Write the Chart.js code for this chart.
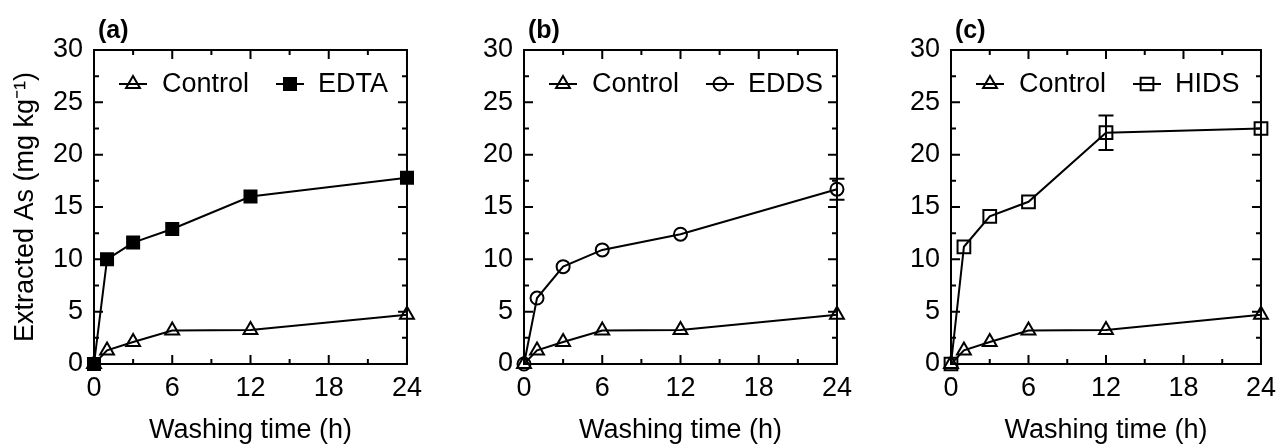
<!DOCTYPE html>
<html>
<head>
<meta charset="utf-8">
<script src="https://cdn.jsdelivr.net/npm/chart.js@4.4.0/dist/chart.umd.min.js"></script>
<style>
  body { margin: 0; background: #fff; }
  canvas { position: absolute; top: 0; }
</style>
</head>
<body>
<canvas id="chartA" width="430" height="444" style="left:0px"></canvas>
<canvas id="chartB" width="430" height="444" style="left:430px"></canvas>
<canvas id="chartC" width="424" height="444" style="left:860px"></canvas>
<script>
// washing time (h) and extracted As (mg/kg)
const hours = [0, 1, 3, 6, 12, 24]
const controlAs = [0, 1.3, 2.1, 3.2, 3.25, 4.7]
const edtaAs = [0, 10.0, 11.6, 12.9, 16.0, 17.8]
const eddsAs = [0, 6.3, 9.3, 10.9, 12.4, 16.7]
const hidsAs = [0, 11.2, 14.1, 15.5, 22.1, 22.5]
const edtaErr = [0, 0, 0, 0, 0, 0]
const eddsErr = [0, 0, 0, 0, 0, 1.0]
const hidsErr = [0, 0, 0, 0, 1.65, 0]
const xTicks = [0, 6, 12, 18, 24]
const yTicks = [0, 5, 10, 15, 20, 25, 30]
const xMinor = [3, 9, 15, 21]
const yMinor = [2.5, 7.5, 12.5, 17.5, 22.5, 27.5]

const FONT = '"Liberation Sans", Arial, Helvetica, sans-serif'
Chart.defaults.font.family = FONT
Chart.defaults.color = '#000'

function toPoints(vals) {
    return hours.map((h, i) => ({ x: h, y: vals[i] }))
}

function makePanel(id, cfg) {
    const deco = {
        id: 'deco' + id,
        afterDatasetsDraw(chart) {
            const { ctx, chartArea: a, scales: { x, y } } = chart
            ctx.save()
            ctx.strokeStyle = '#000'
            ctx.lineWidth = 2
            // error bars
            cfg.err.forEach((e, i) => {
                if (!e) return
                const px = x.getPixelForValue(hours[i])
                const top = y.getPixelForValue(cfg.values[i] + e)
                const bot = y.getPixelForValue(cfg.values[i] - e)
                ctx.beginPath()
                ctx.moveTo(px, top); ctx.lineTo(px, bot)
                ctx.moveTo(px - 7.5, top); ctx.lineTo(px + 7.5, top)
                ctx.moveTo(px - 7.5, bot); ctx.lineTo(px + 7.5, bot)
                ctx.stroke()
            })
            // frame with inward ticks on all sides
            ctx.strokeRect(a.left, a.top, a.right - a.left, a.bottom - a.top)
            ctx.beginPath()
            const xt = (v, len) => {
                const px = x.getPixelForValue(v)
                ctx.moveTo(px, a.bottom); ctx.lineTo(px, a.bottom - len)
                ctx.moveTo(px, a.top); ctx.lineTo(px, a.top + len)
            }
            const yt = (v, len) => {
                const py = y.getPixelForValue(v)
                ctx.moveTo(a.left, py); ctx.lineTo(a.left + len, py)
                ctx.moveTo(a.right, py); ctx.lineTo(a.right - len, py)
            }
            xTicks.forEach(v => xt(v, 9))
            xMinor.forEach(v => xt(v, 5))
            yTicks.forEach(v => yt(v, 9))
            yMinor.forEach(v => yt(v, 5))
            ctx.stroke()

            // legend inside the plot
            const ly = 84
            const symStart = [25, 182]
            const textStart = [68, 224]
            ctx.font = '27px ' + FONT
            ctx.textBaseline = 'middle'
            ctx.textAlign = 'left'
            chart.data.datasets.forEach((ds, i) => {
                const sx = a.left + symStart[i]
                ctx.beginPath()
                ctx.moveTo(sx, ly); ctx.lineTo(sx + 28, ly)
                ctx.stroke()
                ctx.fillStyle = ds.pointBackgroundColor
                Chart.helpers.drawPoint(ctx, { pointStyle: ds.pointStyle, radius: ds.pointRadius, borderWidth: 2, rotation: 0 }, sx + 14, ly)
                ctx.fillStyle = '#000'
                ctx.fillText(ds.label, a.left + textStart[i], ly + 1)
            })

            // panel label
            ctx.font = 'bold 25px ' + FONT
            ctx.textBaseline = 'alphabetic'
            ctx.fillStyle = '#000'
            ctx.fillText(cfg.tag, a.left + 4, 38)
            ctx.restore()
        }
    }

    const tickFont = { size: 27, family: FONT }
    return new Chart(document.getElementById(id).getContext('2d'), {
        type: 'line',
        data: {
            datasets: [
                {
                    label: 'Control',
                    data: toPoints(controlAs),
                    borderColor: '#000',
                    borderWidth: 2,
                    pointStyle: 'triangle',
                    pointRadius: 8,
                    pointBorderWidth: 2,
                    pointBorderColor: '#000',
                    pointBackgroundColor: 'rgba(0,0,0,0)',
                    clip: false,
                    order: 1,
                },
                {
                    label: cfg.name,
                    data: toPoints(cfg.values),
                    borderColor: '#000',
                    borderWidth: 2,
                    pointStyle: cfg.marker,
                    pointRadius: cfg.radius,
                    pointBorderWidth: 2,
                    pointBorderColor: '#000',
                    pointBackgroundColor: cfg.fill,
                    clip: false,
                    order: 0,
                },
            ],
        },
        options: {
            responsive: false,
            animation: false,
            devicePixelRatio: 1,
            layout: { padding: { top: 50, right: cfg.padRight, left: 0, bottom: 0 } },
            plugins: { legend: { display: false }, tooltip: { enabled: false } },
            scales: {
                x: {
                    type: 'linear',
                    min: 0,
                    max: 24,
                    grid: { display: false, drawTicks: false },
                    border: { display: false },
                    ticks: { stepSize: 6, padding: 8, font: tickFont, color: '#000', maxRotation: 0 },
                    title: { display: true, text: 'Washing time (h)', font: { size: 27, lineHeight: 1 }, color: '#000', padding: { top: 0, bottom: 0 } },
                    afterFit: (s) => { s.height = 80 },
                },
                y: {
                    min: 0,
                    max: 30,
                    grid: { display: false, drawTicks: false },
                    border: { display: false },
                    ticks: { stepSize: 5, padding: 11, font: tickFont, color: '#000' },
                    title: { display: cfg.yTitle, text: 'Extracted As (mg kg\u207B\u00B9)', font: { size: 27, lineHeight: 1 }, color: '#000', padding: { top: 12, bottom: 0 } },
                    afterFit: (s) => { s.width = cfg.axisW },
                },
            },
        },
        plugins: [deco],
    })
}

makePanel('chartA', { tag: '(a)', name: 'EDTA', values: edtaAs, err: edtaErr, marker: 'rect', radius: 8.5, fill: '#000', axisW: 94, padRight: 21, yTitle: true })
makePanel('chartB', { tag: '(b)', name: 'EDDS', values: eddsAs, err: eddsErr, marker: 'circle', radius: 6.5, fill: 'rgba(0,0,0,0)', axisW: 94, padRight: 21, yTitle: false })
makePanel('chartC', { tag: '(c)', name: 'HIDS', values: hidsAs, err: hidsErr, marker: 'rect', radius: 9, fill: 'rgba(0,0,0,0)', axisW: 91, padRight: 18, yTitle: false })
</script>
</body>
</html>
